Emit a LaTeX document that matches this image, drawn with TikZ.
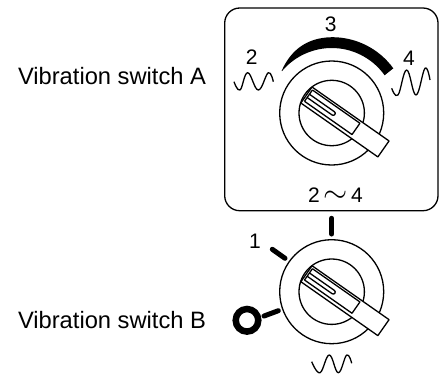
\documentclass[tikz,border=0pt]{standalone}
\usepackage{fontspec}
\setmainfont{Liberation Sans}
\usepackage{tikz}
\usetikzlibrary{positioning, calc}

\tikzset{
    thinline/.style={line width=1.3pt, line join=round},
    wave/.style={line width=1.3pt, line join=round, smooth, tension=0.7},
    tick/.style={line width=5pt, line cap=round},
    biglabel/.style={font=\fontsize{23.7}{26}\selectfont, inner sep=0pt},
    numlabel/.style={font=\fontsize{21}{24}\selectfont, inner sep=0pt},
    knob/.pic={
        \draw[thinline, fill=white] (0,0) circle (52);
        \draw[thinline] (0,0) circle (32.7);
        \begin{scope}[rotate=-35]
            \draw[thinline, fill=white] (-31,-10) -- (63,-10) -- (63,9.5) -- (-31,9.5) -- cycle;
            \draw[thinline] (-29,-7.8) -- (29,-7.8) -- (29,6) -- (-29,6);
            \draw[thinline] (-29,-7.8) -- (-29,6);
            \draw[thinline] (-29,-2.6) -- (1.5,-2.6) arc[start angle=-90, end angle=90, radius=2] -- (-29,1.4);
        \end{scope}
    }
}

\begin{document}
\begin{tikzpicture}[x=1pt, y=-1pt]
    \useasboundingbox (0,0) rectangle (441,376);

    % upper panel
    \draw[thinline, rounded corners=15pt] (224.7,8) rectangle (438,210.7);

    % left labels
    \node[biglabel] (switchA) at (112,75.7) {Vibration switch A};
    \node[biglabel] (switchB) at (112,320) {Vibration switch B};

    % the two dials
    \pic (dialA) at (331.7,113) {knob};
    \pic (dialB) at (331.7,291.7) {knob};

    % upper dial: numbers, crescent, waves
    \node[numlabel] (three) at (330.7,24.3) {3};
    \node[numlabel] (two) at (251.7,57) {2};
    \node[numlabel] (four) at (409,58) {4};
    \node[numlabel] (range) at (335.5,195) {2\hspace{3.5pt}\scalebox{1.5}{$\sim$}\hspace{3.5pt}4};

    \fill (331.7,113) ++(-140:65) arc[start angle=-140, end angle=-35.5, radius=65]
        -- (393.3,68.3) arc[start angle=-36, end angle=-90, radius=75.5]
        .. controls (305,37.5) and (290,52) .. (281.7,70.7) -- cycle;

    \draw[wave] plot coordinates {(234,81.7) (240,90) (247.7,72.7) (258.3,90) (268.3,72.7) (273.3,81.7)};
    \draw[wave] plot coordinates {(391.7,88.3) (398,95) (406.7,70) (416,95) (425,68.3) (430,80)};

    % lower dial: ticks, number, ring, wave
    \node[numlabel] (one) at (255,241.7) {1};
    \coordinate (tickTopA) at (331.7,218.3);
    \coordinate (tickTopB) at (331.7,234);
    \coordinate (tickOneA) at (272.3,249.3);
    \coordinate (tickOneB) at (285,258.3);
    \coordinate (tickOffA) at (264,316);
    \coordinate (tickOffB) at (278.3,310.7);
    \draw[tick] (tickTopA) -- (tickTopB);
    \draw[tick] (tickOneA) -- (tickOneB);
    \draw[tick] (tickOffA) -- (tickOffB);
    \draw[line width=6.5pt] (247,320.3) circle (11.3);

    \draw[wave] plot coordinates {(311.7,361.7) (320,372.7) (329.3,355) (338.3,372.7) (346.7,355) (351.7,363.3)};
\end{tikzpicture}
\end{document}
